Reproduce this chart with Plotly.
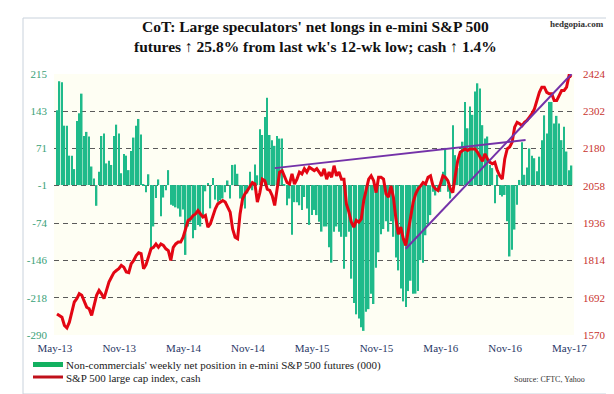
import pandas as pd
import plotly.graph_objects as go

# ---------------- data ----------------
first_week = "2013-05-14"

net_pos = [
    145, 201, 199, 115, 115, 57, 57, 31, 124, 139, 177, 95, 103, 94, 36, 13, -40, 26, 95, 100,
    42, 47, 39, 95, 117, 100, 23, 60, 57, 29, 66, 92, 115, 128, 98,
    2, -14, 21, -127, -80, -25, 11, -60, -24, -10, 29,
    -38, -40, -43, -45, -61, -47, -135, -80, -72, -103, -87, -77, -80, -60, -12, 4, -45, 14,
    -28, -32, -29, -26, -14, 9, -26, 39, 40, 22, -26, -39, -45, -16, 26, -10, 40, 19,
    108, 97, 132, 169, 97, 87, 76, 95, 90, 90, 2, -39, -26, -96, -33, -33, -39, -48, -23,
    -45, -77, -58, -48, -58, -71, -90, -80, -80,
    -120, -150, -90, -80, -90, -100, -162, -100, -90, -181, -228, -250, -258, -275, -282,
    -245, -240, -210, -230, -160, -130, -95, -85, -70, -90, -70, -100, -140, -165, -200,
    -225, -236, -205, -185, -210, -210, -205, -145, -150, -97, -78, -58, -13, -20, -7, -13,
    26, 72, -13, -26, 116, 58, 33, 58, 84, 161, 110, 152, 136, 181, 197, 187, 116, 90,
    94, 39, 33, -35, 20, -19, -22, -19, -70, -138, -125, -86, -38, 10, 83, 20, 34, 71, 57,
    52, 27, 55, 87, 135, 100, 161, 161, 119, 134, 119, 87, 113, 65, 29, 38,
]

spx = [
    1639, 1634, 1628, 1601, 1593, 1612, 1645, 1678, 1689, 1705, 1700, 1678, 1661, 1656, 1634,
    1667, 1700, 1716, 1705, 1689, 1716, 1743, 1759, 1774, 1781, 1787, 1798, 1792, 1776, 1774,
    1803, 1814, 1830, 1839, 1836,
    1787, 1800, 1830, 1852, 1857, 1868, 1857, 1868, 1863, 1852, 1846, 1814, 1857, 1868, 1874,
    1874, 1890, 1917, 1945, 1950, 1961, 1966, 1977, 1966, 1956, 1961, 1923, 1934, 1961, 1983,
    1999, 2005, 2010, 2005,
    1988, 1972, 1917, 1890, 1885, 1966, 2015, 2032, 2043, 2058, 2069, 2064, 2005, 2036, 2080,
    2075, 2047, 2043, 2026, 1994, 2058, 2103, 2108, 2091, 2069, 2064, 2097, 2064, 2080, 2103,
    2097, 2114, 2103, 2119, 2114,
    2108, 2114, 2103, 2091, 2114, 2080, 2103, 2086, 2124, 2091, 2103, 2080, 2080, 1999, 1972,
    1939, 1923, 1945, 1939, 1950, 2010, 2048, 2080, 2091, 2075, 2036, 2086, 2086, 2080, 2032,
    2021, 2058, 2021, 1950, 1900,
    1923, 1885, 1863, 1906, 1961, 2005, 2032, 2048, 2058, 2069, 2064, 2086, 2091, 2058, 2048,
    2043, 2064, 2091, 2086, 2075, 2048, 2036, 2091, 2141, 2168, 2174, 2179, 2174, 2179, 2179,
    2179, 2168, 2152, 2138, 2163,
    2146, 2135, 2130, 2135, 2108, 2091, 2080, 2146, 2179, 2185, 2201, 2250, 2266, 2261, 2255,
    2266, 2272, 2283, 2294, 2310, 2337, 2364, 2381, 2381, 2364, 2359, 2359, 2337, 2337, 2353,
    2370, 2370, 2381, 2419, 2414,
]

left_ticks = [215, 143, 71, -1, -74, -146, -218, -290]
right_ticks = [2424, 2302, 2180, 2058, 1936, 1814, 1692, 1570]
x_tick_dates = ["2013-05-08", "2013-11-06", "2014-05-07", "2014-11-05", "2015-05-06",
                "2015-11-04", "2016-05-04", "2016-11-02", "2017-05-03"]
x_tick_text = ["May-13", "Nov-13", "May-14", "Nov-14", "May-15",
               "Nov-15", "May-16", "Nov-16", "May-17"]

trend1_dates = ["2015-01-20", "2016-12-30"]
trend1_vals = [2116, 2208]
trend2_dates = ["2016-01-26", "2017-05-09"]
trend2_vals = [1852, 2424]

bar_name = "Non-commercials' weekly net position in e-mini S&P 500 futures (000)"
line_name = "S&P 500 large cap index, cash"
title_text = ("<b>CoT: Large speculators' net longs in e-mini S&P 500<br>"
              "futures ↑ 25.8% from last wk's 12-wk low; cash ↑ 1.4%</b>")

weeks = pd.date_range(first_week, periods=len(net_pos), freq="7D")

SERIF = "Liberation Serif"
GREEN = "#1fba8a"
LEG_GREEN = "#12b060"
RED = "#e30613"
PURPLE = "#7432a8"

# pixel -> paper helpers (plot area spans x 46..566, y 66..327)
def px(x):
    return (x - 46) / 520

def py(y):
    return (327 - y) / 261

fig = go.Figure()
fig.add_trace(go.Bar(
    x=weeks, y=net_pos, marker=dict(color=GREEN, line=dict(width=0)),
    name=bar_name, yaxis="y", showlegend=False,
))
fig.add_trace(go.Scatter(
    x=weeks, y=spx, mode="lines", line=dict(color=RED, width=3),
    name=line_name, yaxis="y2", showlegend=False,
))
for d, v in ((trend1_dates, trend1_vals), (trend2_dates, trend2_vals)):
    fig.add_trace(go.Scatter(
        x=d, y=v, mode="lines", line=dict(color=PURPLE, width=2),
        yaxis="y2", showlegend=False, hoverinfo="skip",
    ))

fig.update_layout(
    width=614, height=394,
    margin=dict(l=46, r=48, t=66, b=67),
    paper_bgcolor="white",
    plot_bgcolor="#fefef3",
    bargap=0.38,
    font=dict(family=SERIF, size=11, color="#222"),
    xaxis=dict(
        type="date",
        range=["2013-05-05 12:00", "2017-05-16"],
        tickvals=x_tick_dates, ticktext=x_tick_text,
        tickfont=dict(family=SERIF, size=11, color="#2a3866"),
        showgrid=False, zeroline=False, showline=False, ticks="",
        ticklabelstandoff=5,
    ),
    yaxis=dict(
        range=[-290, 215],
        tickvals=left_ticks, ticktext=[str(t) for t in left_ticks],
        tickfont=dict(family=SERIF, size=11, color="#3a9f78"),
        showgrid=True, gridcolor="#5a5a5a", gridwidth=1, griddash="5px,4px",
        zeroline=False, showline=False, ticks="",
        ticklabelstandoff=6,
    ),
    yaxis2=dict(
        range=[1570, 2424], overlaying="y", side="right",
        tickvals=right_ticks, ticktext=[str(t) for t in right_ticks],
        tickfont=dict(family=SERIF, size=11, color="#c8322d"),
        showgrid=False, zeroline=False, showline=False, ticks="",
        ticklabelstandoff=8,
    ),
    showlegend=False,
)

# outer frame of the chart
fig.add_shape(type="rect", xref="paper", yref="paper",
              x0=px(15), x1=px(602), y0=py(386), y1=py(10),
              line=dict(color="#c9d2dc", width=1), fillcolor="rgba(0,0,0,0)", layer="below")

# legend (swatches + labels)
fig.add_shape(type="rect", xref="paper", yref="paper",
              x0=px(25), x1=px(55), y0=py(359), y1=py(354),
              line=dict(width=0), fillcolor=LEG_GREEN)
fig.add_shape(type="line", xref="paper", yref="paper",
              x0=px(25), x1=px(55), y0=py(369), y1=py(369),
              line=dict(color="#c0101a", width=3))
fig.add_annotation(text=bar_name, xref="paper", yref="paper",
                   x=px(56), y=py(357), xanchor="left", yanchor="middle",
                   showarrow=False, font=dict(family=SERIF, size=11, color="#1a1a1a"))
fig.add_annotation(text=line_name, xref="paper", yref="paper",
                   x=px(56), y=py(370), xanchor="left", yanchor="middle",
                   showarrow=False, font=dict(family=SERIF, size=11, color="#1a1a1a"))

fig.add_annotation(text=title_text, xref="paper", yref="paper",
                   x=px(307), y=py(8), xanchor="center", yanchor="top",
                   showarrow=False, align="center",
                   font=dict(family=SERIF, size=15.5, color="#111"))
fig.add_annotation(text="<b>hedgopia.com</b>", xref="paper", yref="paper",
                   x=px(598), y=py(16), xanchor="right", yanchor="middle",
                   showarrow=False, font=dict(family=SERIF, size=9, color="#333"))
fig.add_annotation(text="Source: CFTC, Yahoo", xref="paper", yref="paper",
                   x=px(579), y=py(371), xanchor="right", yanchor="middle",
                   showarrow=False, font=dict(family=SERIF, size=8, color="#333"))

fig.write_html("out.html")
